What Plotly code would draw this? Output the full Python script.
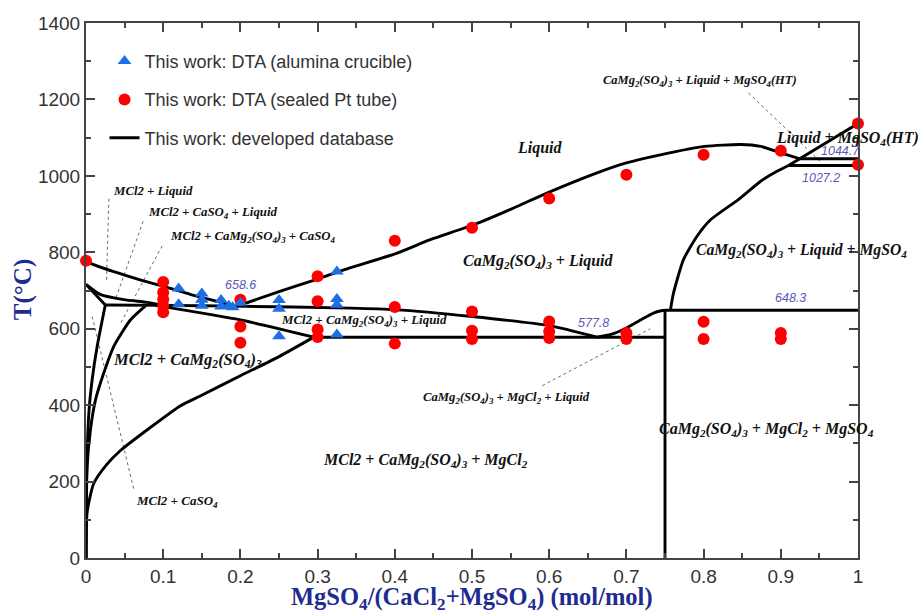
import plotly.graph_objects as go

# ---- experimental points: MgSO4/(CaCl2+MgSO4) mole fraction vs T (°C) ----
dta_alumina_x = [0.12, 0.12, 0.15, 0.15, 0.15, 0.175, 0.175, 0.185, 0.19, 0.2,
                 0.25, 0.25, 0.25, 0.325, 0.325, 0.325, 0.325]
dta_alumina_t = [705, 664, 692, 676, 660, 675, 658, 660, 656, 668,
                 675, 652, 580, 750, 678, 663, 585]

dta_pt_x = [0.0,
            0.1, 0.1, 0.1, 0.1, 0.1,
            0.2, 0.2, 0.2,
            0.3, 0.3, 0.3, 0.3,
            0.4, 0.4, 0.4,
            0.5, 0.5, 0.5, 0.5,
            0.6, 0.6, 0.6, 0.6,
            0.7, 0.7, 0.7,
            0.8, 0.8, 0.8,
            0.9, 0.9, 0.9,
            1.0, 1.0]
dta_pt_t = [778,
            722, 695, 677, 660, 643,
            676, 606, 563,
            737, 672, 598, 578,
            830, 657, 561,
            864, 645, 595, 573,
            941, 619, 593, 576,
            1003, 589, 573,
            1055, 618, 573,
            1066, 589, 573,
            1137, 1029]

# ---- calculated phase boundaries (developed database) ----
mcl2_liq_x = [0.0, 0.035, 0.07, 0.105, 0.135, 0.165, 0.195]
mcl2_liq_t = [775, 750, 728, 708, 690, 674, 658.6]

camg_liq_x = [0.195, 0.25, 0.3, 0.334, 0.403, 0.446, 0.502, 0.554, 0.597, 0.662,
              0.70, 0.744, 0.801, 0.848, 0.874, 0.90, 0.925]
camg_liq_t = [658.6, 697, 730, 754, 798, 833, 872, 916, 955, 1008,
              1034, 1055, 1077, 1082, 1077, 1060, 1044.7]

mgso4_ht_liq_x = [0.91, 1.0]
mgso4_ht_liq_t = [1027.2, 1137]

mgso4_liq_x = [0.757, 0.761, 0.774, 0.7915, 0.809, 0.845, 0.874, 0.895, 0.91]
mgso4_liq_t = [648.3, 693, 781, 842, 885, 938, 986, 1012, 1027.2]

inv_1044_x = [0.925, 1.0]
inv_1044_t = [1044.7, 1044.7]
inv_1027_x = [0.91, 1.0]
inv_1027_t = [1027.2, 1027.2]
inv_648_x = [0.75, 1.0]
inv_648_t = [648.3, 648.3]
inv_578_x = [0.295, 0.75]
inv_578_t = [577.8, 577.8]
camg_vert_x = [0.75, 0.75]
camg_vert_t = [0, 648.3]

mgcl2_liq_x = [0.662, 0.68, 0.70, 0.72, 0.735, 0.745, 0.75]
mgcl2_liq_t = [577.8, 585, 602, 625, 641, 647, 648.3]

three_phase_x = [0.025, 0.1, 0.195, 0.343, 0.4, 0.5, 0.6, 0.662]
three_phase_t = [662, 661, 659, 654, 650, 632, 608, 577.8]

lower_x = [0.09, 0.2, 0.295]
lower_t = [661, 623, 578]

caso4_curve_x = [0.0, 0.019, 0.049, 0.079, 0.0965]
caso4_curve_t = [716, 689, 676, 669, 663]

v_line_x = [0.0, 0.025]
v_line_t = [716, 662]

v_down_x = [0.025, 0.0145, 0.008, 0.0037, 0.0007, 0.0]
v_down_t = [662, 554, 467, 380, 205, 0]

camg_sol_x = [0.077, 0.058, 0.036, 0.023, 0.0123, 0.0058, 0.0015, 0.0]
camg_sol_t = [660, 624, 554, 484, 414, 336, 240, 0]

solvus_x = [0.0, 0.0015, 0.01, 0.027, 0.045, 0.079, 0.122, 0.148, 0.2, 0.25, 0.295]
solvus_t = [0, 120, 195, 245, 282, 335, 398, 424, 477, 527, 578]

boundaries = [
    (mcl2_liq_x, mcl2_liq_t), (camg_liq_x, camg_liq_t),
    (mgso4_ht_liq_x, mgso4_ht_liq_t), (mgso4_liq_x, mgso4_liq_t),
    (inv_1044_x, inv_1044_t), (inv_1027_x, inv_1027_t),
    (inv_648_x, inv_648_t), (inv_578_x, inv_578_t), (camg_vert_x, camg_vert_t),
    (mgcl2_liq_x, mgcl2_liq_t), (three_phase_x, three_phase_t),
    (lower_x, lower_t), (caso4_curve_x, caso4_curve_t), (v_line_x, v_line_t),
    (v_down_x, v_down_t), (camg_sol_x, camg_sol_t), (solvus_x, solvus_t),
]

# dotted leader lines from small labels to their regions
leaders = [
    ([0.0296, 0.0265], [940, 720]),
    ([0.074, 0.038], [881, 676]),
    ([0.0987, 0.045], [817, 615]),
    ([0.008, 0.062], [632, 179]),
    ([0.858, 0.953], [1217, 1034]),
    ([0.591, 0.731], [451, 600]),
]

SERIF = "Liberation Serif, Times New Roman, serif"
SANS = "Liberation Sans, Arial, sans-serif"
NAVY = "#1f2c8f"
AXC = "#444444"

fig = go.Figure()

for lx, lt in leaders:
    fig.add_trace(go.Scatter(x=lx, y=lt, mode="lines", showlegend=False,
                             hoverinfo="skip",
                             line=dict(color="#6a6a6a", width=1, dash="dot")))

first = True
for bx, bt in boundaries:
    fig.add_trace(go.Scatter(
        x=bx, y=bt, mode="lines",
        name="This work: developed database",
        showlegend=first, legendrank=3, legendgroup="db",
        line=dict(color="black", width=2.9, shape="spline", smoothing=0.6),
    ))
    first = False

fig.add_trace(go.Scatter(
    x=dta_pt_x, y=dta_pt_t, mode="markers", cliponaxis=False,
    name="This work: DTA (sealed Pt tube)", legendrank=2, legendgroup="pt",
    marker=dict(symbol="circle", size=12, color="#ff0000"),
))
fig.add_trace(go.Scatter(
    x=dta_alumina_x, y=dta_alumina_t, mode="markers", cliponaxis=False,
    name="This work: DTA (alumina crucible)", legendrank=1, legendgroup="al",
    marker=dict(symbol="triangle-up", size=12, color="#1e6fe6"),
))

# region labels (x, T, text, size, anchor)
labels = [
    (0.588, 1074, "Liquid", 16, "center"),
    (0.586, 777, "CaMg<sub>2</sub>(SO<sub>4</sub>)<sub>3</sub> + Liquid", 16, "center"),
    (0.987, 1099, "Liquid + MgSO<sub>4</sub>(HT)", 16, "center"),
    (0.927, 804, "CaMg<sub>2</sub>(SO<sub>4</sub>)<sub>3</sub> + Liquid + MgSO<sub>4</sub>", 15.7, "center"),
    (0.795, 1249, "CaMg<sub>2</sub>(SO<sub>4</sub>)<sub>3</sub> + Liquid + MgSO<sub>4</sub>(HT)", 12.5, "center"),
    (0.36, 619, "MCl2 + CaMg<sub>2</sub>(SO<sub>4</sub>)<sub>3</sub> + Liquid", 12.9, "center"),
    (0.545, 419, "CaMg<sub>2</sub>(SO<sub>4</sub>)<sub>3</sub> + MgCl<sub>2</sub> + Liquid", 12.7, "center"),
    (0.882, 336, "CaMg<sub>2</sub>(SO<sub>4</sub>)<sub>3</sub> + MgCl<sub>2</sub> + MgSO<sub>4</sub>", 16, "center"),
    (0.44, 254, "MCl2 + CaMg<sub>2</sub>(SO<sub>4</sub>)<sub>3</sub> + MgCl<sub>2</sub>", 16, "center"),
    (0.132, 517, "MCl2 + CaMg<sub>2</sub>(SO<sub>4</sub>)<sub>3</sub>", 16.5, "center"),
    (0.118, 148, "MCl2 + CaSO<sub>4</sub>", 13, "center"),
    (0.032, 960, "MCl2 + Liquid", 12.8, "left"),
    (0.078, 902, "MCl2 + CaSO<sub>4</sub> + Liquid", 12.8, "left"),
    (0.106, 840, "MCl2 + CaMg<sub>2</sub>(SO<sub>4</sub>)<sub>3</sub> + CaSO<sub>4</sub>", 12.8, "left"),
]
for lx, lt, txt, sz, anchor in labels:
    fig.add_annotation(x=lx, y=lt, xref="x", yref="y", text=f"<b><i>{txt}</i></b>",
                       showarrow=False, xanchor=anchor, yanchor="middle",
                       font=dict(family=SERIF, size=sz, color="#111111"))

# invariant temperatures
invariants = [
    (0.2, 715, "658.6"),
    (0.657, 615, "577.8"),
    (0.913, 680, "648.3"),
    (0.977, 1064, "1044.7"),
    (0.952, 994, "1027.2"),
]
for ix, it, txt in invariants:
    fig.add_annotation(x=ix, y=it, xref="x", yref="y", text=f"<i>{txt}</i>",
                       showarrow=False, xanchor="center", yanchor="middle",
                       font=dict(family=SANS, size=12.5, color="#5a5ab8"))

# axis titles
fig.add_annotation(x=-0.0823, y=0.5015, xref="paper", yref="paper",
                   text="<b>T(°C)</b>", textangle=-90, showarrow=False,
                   xanchor="center", yanchor="middle",
                   font=dict(family=SERIF, size=25, color=NAVY))
fig.add_annotation(x=0.5, y=-0.075, xref="paper", yref="paper",
                   text="<b>MgSO<sub>4</sub>/(CaCl<sub>2</sub>+MgSO<sub>4</sub>) (mol/mol)</b>",
                   showarrow=False, xanchor="center", yanchor="middle",
                   font=dict(family=SERIF, size=24.5, color=NAVY))

axis_common = dict(
    showline=True, linecolor=AXC, linewidth=2, mirror="allticks",
    ticks="inside", ticklen=9, tickwidth=1.5, tickcolor=AXC,
    showgrid=False, zeroline=False,
    tickfont=dict(family=SANS, size=19, color="#333333"),
)

fig.update_xaxes(range=[0, 1], dtick=0.1, tick0=0,
                 minor=dict(ticks="inside", dtick=0.05, ticklen=5, tickwidth=1.5,
                            tickcolor=AXC, showgrid=False),
                 **axis_common)
fig.update_yaxes(range=[0, 1400], dtick=200, tick0=0,
                 minor=dict(ticks="inside", dtick=100, ticklen=5, tickwidth=1.5,
                            tickcolor=AXC, showgrid=False),
                 **axis_common)

fig.update_layout(
    width=919, height=614,
    margin=dict(l=86, r=61, t=23, b=56),
    paper_bgcolor="white", plot_bgcolor="white",
    legend=dict(x=0.024, y=0.963, xanchor="left", yanchor="top",
                bgcolor="rgba(0,0,0,0)", borderwidth=0,
                font=dict(family=SANS, size=18, color="#333333"),
                tracegroupgap=12, traceorder="grouped"),
)

fig.write_html("out.html")
